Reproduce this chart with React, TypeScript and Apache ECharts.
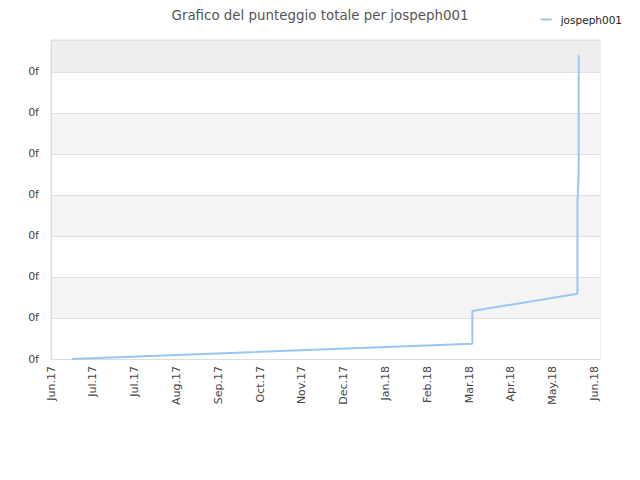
import React, { useEffect, useRef } from "react";
import * as echarts from "echarts";

const tickLabels = ["Jun.17", "Jul.17", "Jul.17", "Aug.17", "Sep.17", "Oct.17", "Nov.17", "Dec.17", "Jan.18", "Feb.18", "Mar.18", "Apr.18", "May.18", "Jun.18"];
const seriesName = "jospeph001";
const dayValues = [15.1, 302.4, 302.4, 302.4, 377.8, 377.8, 377.8, 378.7, 378.7, 378.7];
const scoreValues = [0, 0.37, 0.78, 1.17, 1.59, 2.2, 3.77, 4.59, 5.4, 7.41];

export default function App() {
  const ref = useRef<HTMLDivElement>(null);
  useEffect(() => {
    if (!ref.current) return;
    const chart = echarts.init(ref.current, undefined, { renderer: "svg" });
    const font = "DejaVu Sans";
    chart.setOption({
      animation: false,
      backgroundColor: "#ffffff",
      title: {
        text: "Grafico del punteggio totale per jospeph001",
        left: "center",
        top: 4,
        textStyle: { fontFamily: font, fontSize: 13.4, fontWeight: "normal", color: "#555555" },
      },
      legend: {
        data: [seriesName],
        right: 13,
        top: 9,
        icon: "rect",
        itemWidth: 11,
        itemHeight: 2,
        itemGap: 8,
        textStyle: { fontFamily: font, fontSize: 10.5, color: "#222222", padding: [0, 0, 0, 4] },
      },
      grid: {
        left: 51,
        right: 40,
        top: 40,
        bottom: 121,
        show: true,
        borderColor: "#dddddd",
        borderWidth: 1,
        backgroundColor: "transparent",
      },
      xAxis: {
        type: "value",
        min: 0,
        max: 394,
        interval: 30,
        axisLine: { show: true, lineStyle: { color: "#dddddd" } },
        axisTick: { show: false },
        splitLine: { show: false },
        axisLabel: {
          rotate: 90,
          fontFamily: font,
          fontSize: 11,
          color: "#444444",
          margin: 7,
          showMaxLabel: false,
          formatter: (v: number) => {
            const i = Math.round(v / 30);
            return Math.abs(v - i * 30) < 0.01 && tickLabels[i] ? tickLabels[i] : "";
          },
        },
      },
      yAxis: {
        type: "value",
        min: 0,
        max: 7.78,
        interval: 1,
        axisLine: { show: true, lineStyle: { color: "#dddddd" } },
        axisTick: { show: false },
        splitLine: { show: true, lineStyle: { color: "#e0e0e0" } },
        splitArea: {
          show: true,
          areaStyle: {
            color: ["#ffffff", "#f4f4f4", "#ffffff", "#f4f4f4", "#ffffff", "#f4f4f4", "#ffffff", "#eeeeee"],
          },
        },
        axisLabel: {
          fontFamily: font,
          fontSize: 11,
          color: "#444444",
          margin: 12,
          showMaxLabel: false,
          formatter: () => "0f",
        },
      },
      series: [
        {
          name: seriesName,
          type: "line",
          data: dayValues.map((d, i) => [d, scoreValues[i]]),
          showSymbol: false,
          symbol: "none",
          lineStyle: { color: "#99c6f5", width: 2 },
          itemStyle: { color: "#99c6f5" },
        },
      ],
    });
    return () => chart.dispose();
  }, []);
  return <div ref={ref} style={{ width: 640, height: 480, position: "absolute", left: 0, top: 0 }} />;
}
